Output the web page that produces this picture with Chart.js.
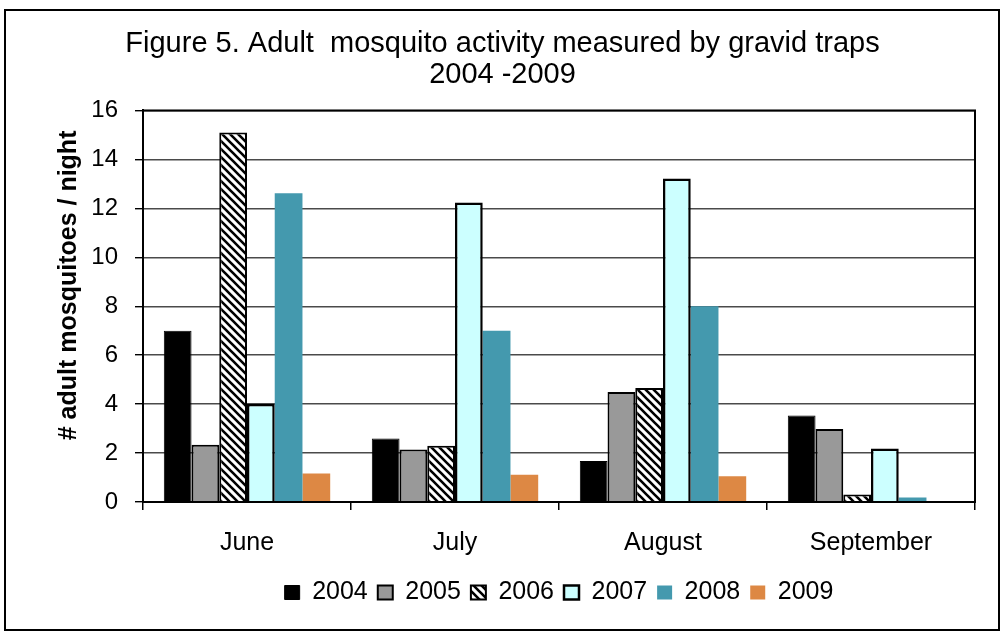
<!DOCTYPE html>
<html>
<head>
<meta charset="utf-8">
<script src="https://cdn.jsdelivr.net/npm/chart.js@4/dist/chart.umd.min.js"></script>
<style>
  html, body { margin: 0; padding: 0; background: #fff; }
  #wrap { width: 1005px; height: 635px; position: relative; }
</style>
</head>
<body>
<div id="wrap"><canvas id="chart" width="1005" height="635"></canvas></div>
<script>
'use strict'

const months = ['June', 'July', 'August', 'September']
const years = ['2004', '2005', '2006', '2007', '2008', '2009']

const y2004 = [7.0, 2.6, 1.68, 3.54]
const y2005 = [2.34, 2.15, 4.5, 2.98]
const y2006 = [15.1, 2.3, 4.66, 0.31]
const y2007 = [4.0, 12.24, 13.22, 2.19]
const y2008 = [12.62, 7.0, 8.0, 0.18]
const y2009 = [1.16, 1.11, 1.05, 0]

const FONT = '"Liberation Sans", Arial, sans-serif'

function hatchPattern () {
  // black diagonal stripes on white, running top-left to bottom-right
  const size = 8
  const c = document.createElement('canvas')
  c.width = size
  c.height = size
  const g = c.getContext('2d')
  g.fillStyle = '#fff'
  g.fillRect(0, 0, size, size)
  g.strokeStyle = '#000'
  g.lineWidth = 2.6
  g.beginPath()
  g.moveTo(-2, -2)
  g.lineTo(size + 2, size + 2)
  g.moveTo(-2, size - 2)
  g.lineTo(2, size + 2)
  g.moveTo(size - 2, -2)
  g.lineTo(size + 2, 2)
  g.stroke()
  return g.createPattern(c, 'repeat')
}

const frame = {
  id: 'frame',
  afterDraw (chart) {
    const { ctx, chartArea } = chart
    ctx.save()
    ctx.strokeStyle = '#000'
    ctx.lineWidth = 2
    ctx.strokeRect(chartArea.left, chartArea.top, chartArea.right - chartArea.left, chartArea.bottom - chartArea.top)
    ctx.strokeRect(5, 10, 994, 620)
    ctx.restore()
  }
}

const ctx = document.getElementById('chart')
new Chart(ctx, {
  type: 'bar',
  data: {
    labels: months,
    datasets: [
      { label: years[0], data: y2004, backgroundColor: '#000', borderColor: '#000', borderWidth: 1 },
      { label: years[1], data: y2005, backgroundColor: '#999', borderColor: '#000', borderWidth: 2 },
      { label: years[2], data: y2006, backgroundColor: hatchPattern(), borderColor: '#000', borderWidth: 2 },
      { label: years[3], data: y2007, backgroundColor: '#ccffff', borderColor: '#000', borderWidth: 2.5 },
      { label: years[4], data: y2008, backgroundColor: '#4499ae', borderWidth: 0 },
      { label: years[5], data: y2009, backgroundColor: '#dd8844', borderWidth: 0 }
    ]
  },
  options: {
    responsive: false,
    animation: false,
    layout: { padding: { left: 0, right: 0, top: 0, bottom: 20 } },
    datasets: {
      bar: { barPercentage: 1.0, categoryPercentage: 0.8, borderSkipped: 'start' }
    },
    plugins: {
      title: {
        display: true,
        text: ['Figure 5. Adult  mosquito activity measured by gravid traps', '2004 -2009'],
        color: '#000',
        font: { family: FONT, size: 29, weight: 'normal', lineHeight: 1.06 },
        padding: { top: 29, bottom: 20 }
      },
      legend: {
        position: 'bottom',
        fullSize: false,
        labels: {
          color: '#000',
          font: { family: FONT, size: 25 },
          boxWidth: 15,
          boxHeight: 14,
          padding: 10
        }
      },
      tooltip: { enabled: false }
    },
    scales: {
      x: {
        afterFit (scale) { scale.height = 68 },
        grid: { display: true, drawOnChartArea: false, drawTicks: true, tickLength: 8, color: '#000', lineWidth: 1.5 },
        border: { display: true, color: '#000', width: 2 },
        ticks: { color: '#000', font: { family: FONT, size: 25 }, padding: 18 }
      },
      y: {
        min: 0,
        max: 16,
        afterFit (scale) { scale.width = 143 },
        ticks: { stepSize: 2, color: '#000', font: { family: FONT, size: 24 }, padding: 17 },
        grid: { color: '#4a4a4a', lineWidth: 1.4, tickLength: 8, tickColor: '#000' },
        border: { display: true, color: '#000', width: 2 },
        title: {
          display: true,
          text: '      # adult mosquitoes / night',
          color: '#000',
          font: { family: FONT, size: 25, weight: 'bold' },
          padding: { top: 54, bottom: 0 }
        }
      },
      // empty right-hand axis that only reserves the margin right of the plot
      gap: {
        position: 'right',
        display: true,
        afterFit (scale) { scale.width = 30 },
        grid: { display: false },
        border: { display: false },
        ticks: { display: false }
      }
    }
  },
  plugins: [frame]
})
</script>
</body>
</html>
